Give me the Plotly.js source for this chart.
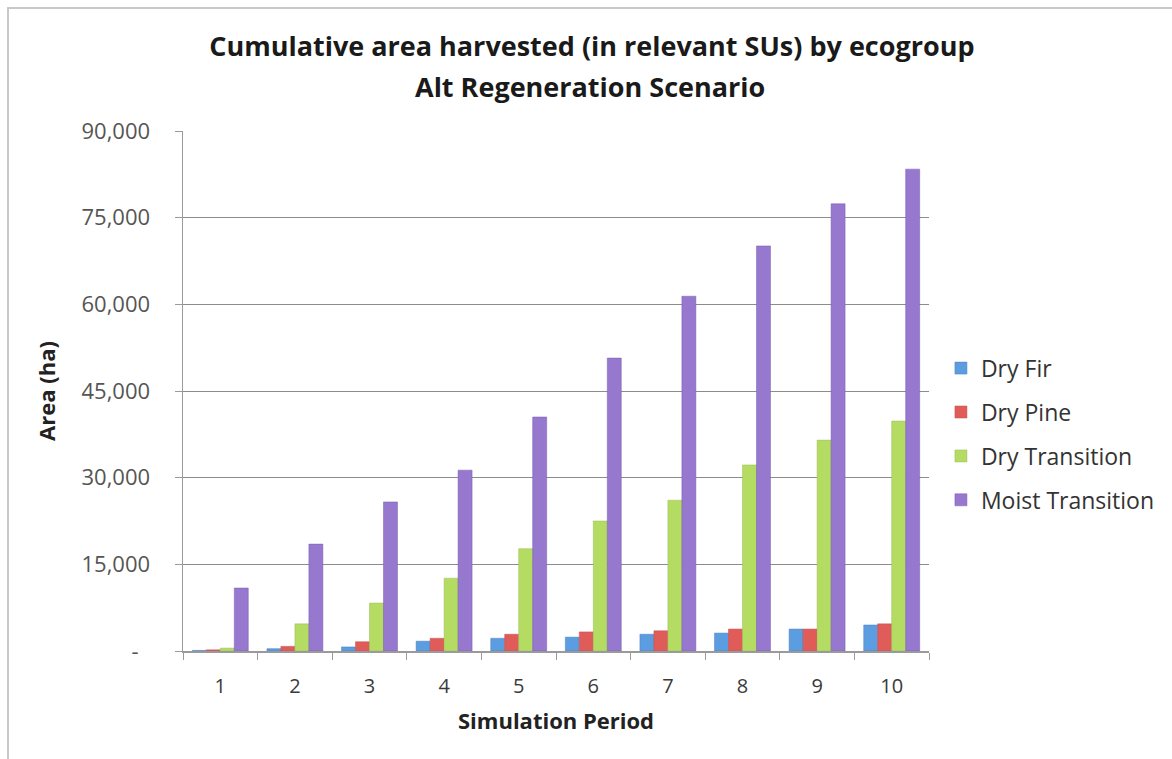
<!DOCTYPE html>
<html>
<head>
<meta charset="utf-8">
<script src="https://cdn.plot.ly/plotly-3.0.1.min.js"></script>
<style>
  html, body { margin: 0; padding: 0; background: #fff; }
  #chart { width: 1172px; height: 759px; }
  #frame { position: absolute; left: 7px; top: 7px; width: 1180px; height: 780px;
           border-left: 2px solid #c8c8c8; border-top: 2px solid #c8c8c8; pointer-events: none; }
</style>
</head>
<body>
<div id="chart"></div>
<div id="frame"></div>
<script>
const periods = ["1", "2", "3", "4", "5", "6", "7", "8", "9", "10"];
const dryFir = [100, 400, 700, 1700, 2200, 2400, 2900, 3100, 3800, 4500];
const dryPine = [200, 800, 1600, 2200, 2900, 3300, 3500, 3800, 3800, 4700];
const dryTransition = [500, 4700, 8300, 12600, 17700, 22500, 26100, 32200, 36500, 39800];
const moistTransition = [10900, 18500, 25800, 31300, 40500, 50700, 61400, 70100, 77400, 83400];
const yTickVals = [0, 15000, 30000, 45000, 60000, 75000, 90000];
const yTickText = ["-\u00a0\u00a0", "15,000", "30,000", "45,000", "60,000", "75,000", "90,000"];
const titleLine1 = "Cumulative area harvested (in relevant SUs) by ecogroup";
const titleLine2 = "Alt Regeneration Scenario";

const font = "Open Sans, Liberation Sans, sans-serif";
function bar(name, y, color, line) {
  return { type: "bar", name: name, x: periods, y: y, legendgroup: name,
    marker: { color: color, line: { color: line, width: 0.5 } },
    hoverinfo: "x+y+name" };
}
const data = [
  bar("Dry Fir", dryFir, "#5b9de0", "#4a7fc0"),
  bar("Dry Pine", dryPine, "#e05c59", "#c0504d"),
  bar("Dry Transition", dryTransition, "#b4dc63", "#9bbb59"),
  bar("Moist Transition", moistTransition, "#9678cf", "#7a5aae")
];
const titleFont = { family: font, size: 27, color: "#1a1a1a" };
const layout = {
  width: 1172, height: 759,
  margin: { l: 183, r: 239, t: 131, b: 108 },
  paper_bgcolor: "#ffffff", plot_bgcolor: "#ffffff",
  barmode: "group", bargap: 0.25, bargroupgap: 0,
  title: {
    text: "<b>" + titleLine1 + "</b>",
    font: titleFont,
    x: 0.505, xanchor: "center", y: 1 - 47 / 759, yanchor: "middle"
  },
  annotations: [{
    text: "<b>" + titleLine2 + "</b>", font: titleFont, showarrow: false,
    xref: "paper", yref: "paper", x: 0.5 + (592 - 558) / 750, xanchor: "center",
    y: 1 + (131 - 86) / 520, yanchor: "middle"
  }],
  xaxis: {
    type: "category",
    title: { text: "<b>Simulation Period</b>", font: { family: font, size: 22, color: "#222" }, standoff: 16 },
    tickfont: { family: font, size: 20, color: "#3a3a3a" },
    ticklabelstandoff: 16,
    showline: true, linecolor: "#9a9a9a", linewidth: 1.5,
    ticks: "outside", tickson: "boundaries", ticklen: 7, tickcolor: "#9a9a9a",
    showgrid: false, zeroline: false
  },
  yaxis: {
    range: [0, 90000],
    tickvals: yTickVals, ticktext: yTickText,
    title: { text: "<b>Area (ha)</b>", font: { family: font, size: 22, color: "#222" }, standoff: 20 },
    tickfont: { family: font, size: 22, color: "#555" },
    ticklabelstandoff: 20,
    showline: true, linecolor: "#9a9a9a", linewidth: 1.5,
    ticks: "outside", ticklen: 7, tickcolor: "#9a9a9a",
    showgrid: true, gridcolor: "#8c8c8c", gridwidth: 1,
    zeroline: false
  },
  legend: {
    x: 1.016, xanchor: "left", y: 0.417, yanchor: "middle",
    font: { family: font, size: 23, color: "#333" },
    tracegroupgap: 11, itemwidth: 30,
    bgcolor: "rgba(0,0,0,0)"
  },
  showlegend: true
};
Plotly.newPlot("chart", data, layout, { displayModeBar: false, staticPlot: true });
</script>
</body>
</html>
